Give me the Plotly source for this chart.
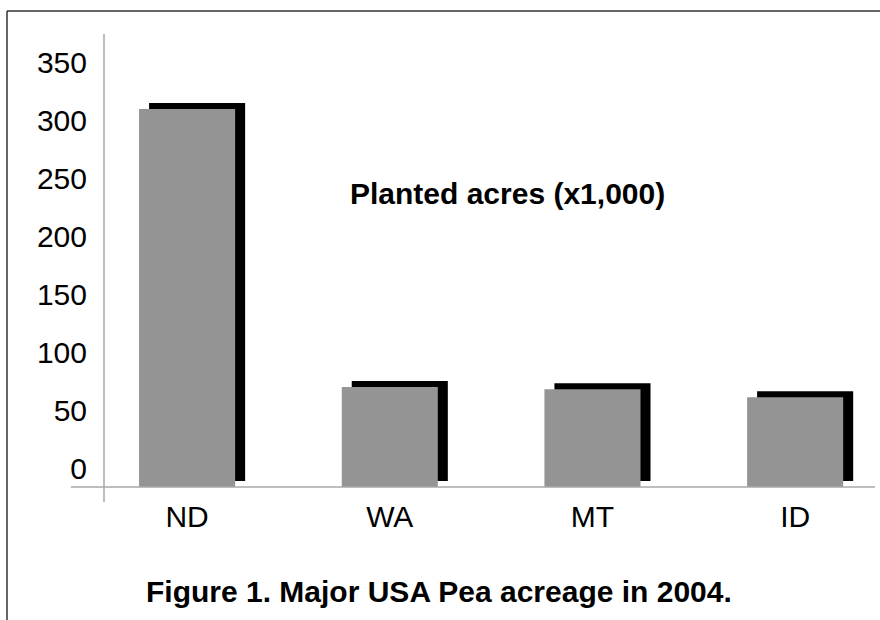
import plotly.graph_objects as go

# ---- data ----
states = ["ND", "WA", "MT", "ID"]
planted_acres = [310, 70, 68, 61]          # thousands of acres
y_ticks = [0, 50, 100, 150, 200, 250, 300, 350]
chart_label = "Planted acres (x1,000)"
caption = "Figure 1. Major USA Pea acreage in 2004."

# ---- layout geometry ----
W, H = 880, 620
L, R, T, B = 104, 5, 34, 133
plot_w = W - L - R
plot_h = H - T - B
y_min, y_max = -16.4, 374.8
x_min, x_max = -0.41, 3.394
py_unit = plot_h / (y_max - y_min)
px_cat = plot_w / (x_max - x_min)
bar_w = 0.474
shadow_dx = 10 / px_cat
shadow_dy = 6 / py_unit

FONT = "Liberation Sans, Arial, Helvetica, sans-serif"
GRAY = "#949494"
AXIS = "#a8a8a8"


def px(x):
    return (x - L) / plot_w


def py(y):
    return (H - B - y) / plot_h


fig = go.Figure()
# shadow bars
fig.add_trace(go.Bar(
    x=states, y=[v - y_min for v in planted_acres], base=y_min + shadow_dy,
    width=bar_w, offset=-bar_w / 2 + shadow_dx,
    marker=dict(color="#000000", line=dict(width=0)), hoverinfo="skip",
    showlegend=False))
# main bars
fig.add_trace(go.Bar(
    x=states, y=[v - y_min for v in planted_acres], base=y_min,
    width=bar_w, offset=-bar_w / 2,
    marker=dict(color=GRAY, line=dict(width=0)),
    customdata=planted_acres, hovertemplate="%{x}: %{customdata}<extra></extra>",
    showlegend=False))

shapes = [
    # figure frame (top and left)
    dict(type="line", xref="paper", yref="paper", x0=px(7), x1=px(880), y0=py(11), y1=py(11),
         line=dict(color="#333333", width=1.5)),
    dict(type="line", xref="paper", yref="paper", x0=px(7), x1=px(7), y0=py(11), y1=py(620),
         line=dict(color="#333333", width=1.5)),
    # axis lines
    dict(type="line", xref="paper", yref="paper", x0=px(71), x1=px(875), y0=0, y1=0,
         line=dict(color=AXIS, width=1.5)),
    dict(type="line", xref="paper", yref="paper", x0=0, x1=0, y0=py(502), y1=1,
         line=dict(color=AXIS, width=1.5)),
]

annotations = [
    dict(text="<b>" + chart_label + "</b>", xref="paper", yref="paper",
         x=px(507), y=py(193), xanchor="center", yanchor="middle", showarrow=False,
         font=dict(family=FONT, size=30, color="#000000")),
    dict(text="<b>" + caption + "</b>", xref="paper", yref="paper",
         x=px(439), y=py(591), xanchor="center", yanchor="middle", showarrow=False,
         font=dict(family=FONT, size=30, color="#000000")),
]

fig.update_layout(
    width=W, height=H,
    margin=dict(l=L, r=R, t=T, b=B),
    paper_bgcolor="white", plot_bgcolor="white",
    barmode="overlay",
    shapes=shapes, annotations=annotations,
    xaxis=dict(type="category", range=[x_min, x_max], showgrid=False, zeroline=False,
               showline=False, ticks="", tickfont=dict(family=FONT, size=30, color="#000000"),
               ticklabelstandoff=9),
    yaxis=dict(range=[y_min, y_max], tickvals=y_ticks, showgrid=False, zeroline=False,
               showline=False, ticks="", tickfont=dict(family=FONT, size=30, color="#000000"),
               ticklabelstandoff=16),
)

fig.write_html("out.html", config={"displayModeBar": False},
               post_script="document.body.style.margin='0';")
